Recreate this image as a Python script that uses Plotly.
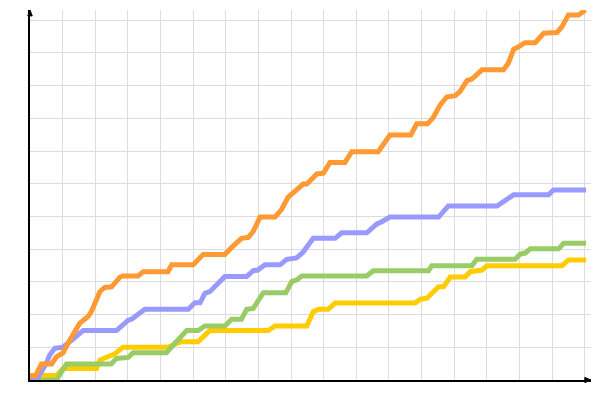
import plotly.graph_objects as go

# Series data (x, y)
orange_x = [0, 1.7, 3.5, 6.6, 8.1, 10.1, 12.2, 14.2, 15.2, 17.8, 18.8, 21.4, 22.9, 25.0, 27.5, 28.5,
            33.1, 34.7, 42.3, 43.4, 50.0, 53.1, 59.7, 62.3, 64.8, 66.9, 68.4, 70.5, 75.1, 77.1, 79.1,
            81.7, 83.7, 84.8, 87.9, 89.9, 91.9, 96.5, 98.6, 106.7, 108.3, 110.3, 116.7, 118.5, 121.8,
            123.6, 125.7, 127.7, 130.3, 131.8, 133.9, 135.4, 138.5, 145.1, 146.6, 148.2, 149.6, 151.7,
            154.8, 157.4, 161.5, 163.0, 165.0, 168.1, 170.2]
orange_y = [1.3, 1.3, 4.9, 4.9, 7.1, 8.3, 12.2, 15.8, 17.3, 19.4, 20.9, 27.0, 28.3, 28.5, 31.4, 31.8,
            31.8, 33.1, 33.1, 35.2, 35.2, 38.4, 38.4, 41.0, 43.3, 43.6, 45.4, 49.8, 49.8, 52.2, 55.9,
            58.1, 59.9, 59.9, 63.0, 63.2, 66.5, 66.5, 69.8, 69.8, 71.9, 74.9, 74.9, 78.3, 78.3,
            80.3, 84.1, 86.5, 86.9, 88.2, 91.5, 92.0, 94.8, 94.8, 96.9, 101.1, 101.8, 103.1,
            103.1, 106.0, 106.2, 108.0, 111.6, 111.6, 113.1]

purple_x = [0, 2.0, 5.0, 6.0, 7.6, 10.1, 16.3, 26.5, 30.1, 31.1, 35.2, 48.5, 50.5, 52.1, 53.6, 55.1,
            59.7, 66.4, 68.4, 69.8, 72.0, 76.6, 78.7, 81.7, 83.7, 86.8, 93.5, 95.5, 103.2, 106.3,
            107.8, 110.3, 125.2, 128.2, 143.1, 144.4, 148.2, 158.9, 160.4, 170.4]
purple_y = [0, 0, 5.1, 7.6, 9.7, 10.0, 15.1, 15.1, 18.3, 18.6, 21.6, 21.6, 23.6, 23.6, 26.5, 27.0,
            31.6, 31.6, 33.4, 33.6, 35.2, 35.2, 36.9, 37.3, 39.1, 43.3, 43.3, 45.0, 45.0, 47.7,
            48.4, 49.8, 49.8, 53.2, 53.2, 54.1, 56.6, 56.6, 58.1, 58.1]

green_x = [1.4, 8.1, 11.2, 24.9, 26.5, 30.1, 31.6, 41.8, 43.9, 46.4, 48.0, 51.5, 53.6, 59.7, 61.8,
           64.8, 66.4, 68.4, 71.5, 78.4, 80.2, 81.7, 83.3, 103.2, 105.2, 122.1, 123.1, 135.4, 136.9,
           148.7, 150.2, 151.7, 153.3, 162.0, 163.5, 170.4]
green_y = [0, 0, 4.9, 4.9, 6.6, 6.9, 8.3, 8.3, 10.7, 13.2, 15.1, 15.1, 16.5, 16.5, 18.6,
           18.6, 21.6, 21.9, 26.7, 26.7, 30.1, 30.6, 31.8, 31.8, 33.4, 33.4, 34.9, 34.9, 36.9,
           36.9, 38.5, 38.8, 40.1, 40.1, 41.8, 41.8]

yellow_x = [0, 8.1, 10.1, 20.4, 21.4, 24.4, 26.0, 28.5, 42.3, 43.8, 46.4, 51.5, 55.1, 73.0, 75.1,
            84.8, 86.8, 88.4, 91.4, 93.5, 118.0, 119.6, 121.6, 125.2, 126.7, 128.8, 133.3, 134.9,
            138.5, 140.0, 163.0, 165.0, 170.4]
yellow_y = [1.4, 1.4, 3.5, 3.5, 6.1, 7.3, 8.0, 10.0, 10.0, 10.7, 11.7, 11.7, 15.1, 15.1, 16.5,
            16.5, 20.9, 21.6, 21.6, 23.5, 23.5, 24.7, 25.0, 28.5, 28.5, 31.5, 31.5, 33.1,
            33.6, 34.9, 34.9, 36.7, 36.7]

x_range = [0, 171.9]
y_range = [0, 113.1]

fig = go.Figure()
series = [
    (yellow_x, yellow_y, "#FFCC00"),
    (green_x, green_y, "#99CC66"),
    (purple_x, purple_y, "#9999FF"),
    (orange_x, orange_y, "#FF9933"),
]
for xs, ys, col in series:
    fig.add_trace(go.Scatter(x=xs, y=ys, mode="lines",
                             line=dict(color=col, width=5), hoverinfo="skip"))

fig.update_layout(
    width=600, height=400,
    margin=dict(l=22, r=17, t=2, b=28),
    paper_bgcolor="white", plot_bgcolor="white",
    showlegend=False,
    xaxis=dict(range=x_range, dtick=10, tick0=0, showticklabels=False, ticks="",
               showgrid=True, gridcolor="#dcdcdc", gridwidth=1, zeroline=False,
               showline=True, linecolor="black", linewidth=2, fixedrange=True),
    yaxis=dict(range=y_range, dtick=10, tick0=0, showticklabels=False, ticks="",
               showgrid=True, gridcolor="#dcdcdc", gridwidth=1, zeroline=False,
               showline=True, linecolor="black", linewidth=2, fixedrange=True),
    shapes=[
        # arrowhead on top of y axis
        dict(type="path", xref="paper", yref="paper",
             path="M -0.004,0.984 L 0.004,0.984 L 0,1.0 Z",
             fillcolor="black", line=dict(color="black", width=1)),
        # arrowhead on right of x axis
        dict(type="path", xref="paper", yref="paper",
             path="M 0.989,-0.007 L 0.989,0.007 L 1.0,0 Z",
             fillcolor="black", line=dict(color="black", width=1)),
    ],
)

fig.write_html("out.html")
